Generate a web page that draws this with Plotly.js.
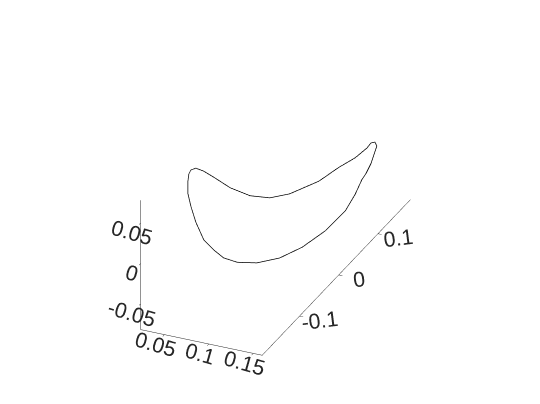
<!DOCTYPE html>
<html>
<head>
<meta charset="utf-8">
<script src="https://cdn.plot.ly/plotly-3.0.1.min.js"></script>
<style>
  html, body { margin: 0; padding: 0; background: #fff; }
  #plot { width: 540px; height: 404px; }
</style>
</head>
<body>
<div id="plot"></div>
<script>
// closed trajectory
const xs = [0.1359, 0.1345, 0.1367, 0.1373, 0.134, 0.1335, 0.1267, 0.119, 0.105, 0.086, 0.0657, 0.0541,
  0.0455, 0.0433, 0.045, 0.0489, 0.0559, 0.0651, 0.0744, 0.0804, 0.084, 0.0873, 0.0912, 0.0942, 0.0981,
  0.1032, 0.1082, 0.1127, 0.1179, 0.1219, 0.1254, 0.1292, 0.1317, 0.1355, 0.1359];
const ys = [0.1467, 0.1398, 0.1249, 0.0936, 0.0585, 0.0094, -0.050, -0.0827, -0.1016, -0.1087, -0.1055, -0.1043,
  -0.1049, -0.1126, -0.1214, -0.1325, -0.1484, -0.1616, -0.1701, -0.1634, -0.1465, -0.1289, -0.1027, -0.0596, -0.0108,
  0.0353, 0.0839, 0.1238, 0.1373, 0.1456, 0.1478, 0.1518, 0.1561, 0.1526, 0.1467];
const zs = [0.002, 0.004, 0.006, 0.010, 0.015, 0.023, 0.036, 0.046, 0.055, 0.064, 0.071, 0.075,
  0.077, 0.078, 0.078, 0.076, 0.070, 0.063, 0.050, 0.026, 0.006, -0.012, -0.030, -0.052, -0.070,
  -0.079, -0.082, -0.077, -0.062, -0.047, -0.040, -0.029, -0.016, -0.006, 0.002];

const X_TICKS = [0.05, 0.1, 0.15];
const Y_TICKS = [-0.1, 0, 0.1];
const Z_TICKS = [-0.05, 0, 0.05];

const FONT = {family: 'Liberation Sans, Arial, sans-serif', size: 16, color: '#262626'};

function axis(range, ticks, angle) {
  return {
    range: range,
    tickvals: ticks,
    ticktext: ticks.map(String),
    tickfont: FONT,
    tickangle: angle,
    title: {text: ''},
    showgrid: false,
    zeroline: false,
    showbackground: false,
    showspikes: false,
    showline: true,
    linecolor: '#262626',
    linewidth: 1,
    ticks: 'outside',
    ticklen: 4,
    tickcolor: '#262626',
  };
}

const traces = [{
  type: 'scatter3d',
  mode: 'lines',
  x: xs,
  y: ys,
  z: zs,
  line: {color: '#000000', width: 1.5},
}];

const layout = {
  width: 540,
  height: 404,
  margin: {l: 0, r: 0, t: 0, b: 0},
  paper_bgcolor: '#ffffff',
  showlegend: false,
  scene: {
    domain: {x: [0.02, 1], y: [0.01, 1]},
    xaxis: axis([0.0233, 0.16], X_TICKS, 16),
    yaxis: axis([-0.195, 0.1825], Y_TICKS, -7),
    zaxis: axis([-0.082, 0.078], Z_TICKS, 16),
    aspectmode: 'manual',
    aspectratio: {x: 0.666, y: 1.81, z: 0.733},
    camera: {
      projection: {type: 'orthographic'},
      eye: {x: 0.722, y: -1.61, z: 0.942},
      up: {x: 0, y: 0, z: 1},
      center: {x: 0, y: 0, z: 0},
    },
  },
};

Plotly.newPlot('plot', traces, layout, {displayModeBar: false});
</script>
</body>
</html>
